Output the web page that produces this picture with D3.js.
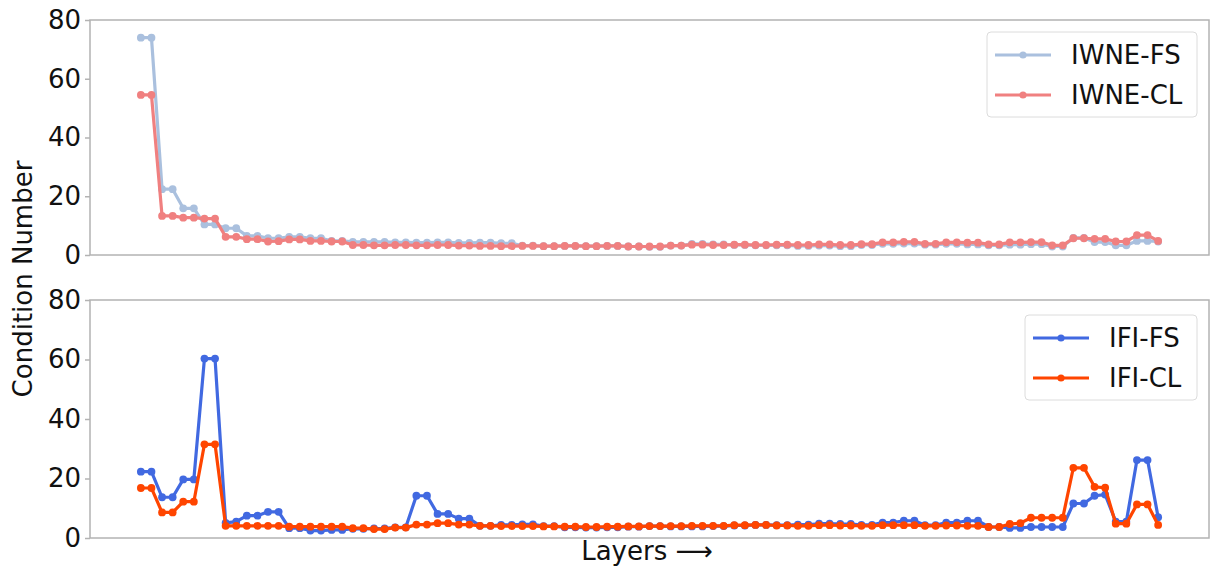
<!DOCTYPE html>
<html>
<head>
<meta charset="utf-8">
<script src="https://cdn.jsdelivr.net/npm/d3@7"></script>
<style>
  html, body { margin: 0; padding: 0; background: #fff; }
  svg { display: block; font-family: "DejaVu Sans", sans-serif; }
</style>
</head>
<body>
<svg id="chart" width="1210" height="567"></svg>
<script>
// Condition number per layer (97 layers, indexed 0..96)
const iwneFS = [74, 74, 22.4, 22.4, 15.9, 15.9, 10.4, 10.4, 9.1, 9.1,
  6.5, 6.5, 5.7, 5.7, 6.2, 6.2, 5.7, 5.7, 4.8, 4.8,
  4.5, 4.5, 4.5, 4.5, 4.3, 4.3, 4.2, 4.2, 4.3, 4.3,
  4.1, 4.1, 4.2, 4.2, 4.0, 4.0, 3.2, 3.2, 3.0, 3.0,
  3.1, 3.1, 3.0, 3.0, 3.1, 3.1, 2.9, 2.9, 2.8, 2.8,
  3.2, 3.2, 3.8, 3.8, 3.6, 3.6, 3.4, 3.4, 3.3, 3.3,
  3.3, 3.3, 3.1, 3.1, 3.2, 3.2, 3.0, 3.0, 3.4, 3.4,
  3.8, 3.8, 3.9, 3.9, 3.5, 3.5, 3.8, 3.8, 3.6, 3.6,
  3.3, 3.3, 3.5, 3.5, 3.7, 3.7, 2.9, 2.9, 5.8, 5.8,
  4.4, 4.4, 3.3, 3.3, 4.8, 4.8, 4.6];

const iwneCL = [54.5, 54.5, 13.3, 13.3, 12.7, 12.7, 12.4, 12.4, 6.2, 6.2,
  5.4, 5.4, 4.6, 4.7, 5.3, 5.3, 4.8, 4.8, 4.6, 4.6,
  3.4, 3.4, 3.3, 3.3, 3.4, 3.4, 3.3, 3.3, 3.4, 3.4,
  3.2, 3.2, 3.1, 3.1, 3.0, 3.0, 3.1, 3.1, 3.0, 3.0,
  3.1, 3.1, 3.0, 3.0, 3.1, 3.1, 2.9, 2.9, 2.9, 2.9,
  3.2, 3.2, 3.5, 3.5, 3.4, 3.4, 3.5, 3.5, 3.4, 3.4,
  3.5, 3.5, 3.4, 3.4, 3.6, 3.6, 3.4, 3.4, 3.7, 3.7,
  4.3, 4.3, 4.5, 4.5, 3.8, 3.8, 4.3, 4.3, 4.2, 4.2,
  3.6, 3.6, 4.3, 4.3, 4.4, 4.4, 3.3, 3.3, 5.7, 5.7,
  5.5, 5.5, 4.6, 4.6, 6.8, 6.8, 4.8];

const ifiFS = [22.3, 22.3, 13.7, 13.7, 19.7, 19.7, 60.3, 60.3, 5.1, 5.5,
  7.5, 7.5, 8.8, 8.8, 3.3, 3.3, 2.5, 2.5, 2.7, 2.7,
  3.1, 3.1, 3.2, 3.2, 3.6, 3.6, 14.2, 14.2, 8.1, 8.1,
  6.5, 6.5, 4.1, 4.1, 4.4, 4.4, 4.6, 4.6, 4.0, 4.0,
  3.6, 3.6, 3.5, 3.5, 3.6, 3.6, 3.8, 3.8, 4.0, 4.0,
  3.9, 3.9, 3.9, 3.9, 4.0, 4.0, 4.2, 4.2, 4.4, 4.4,
  4.3, 4.3, 4.5, 4.5, 4.8, 4.8, 4.7, 4.7, 4.4, 4.4,
  5.2, 5.2, 5.8, 5.8, 4.3, 4.3, 5.2, 5.2, 5.8, 5.8,
  3.7, 3.7, 3.4, 3.4, 3.7, 3.7, 3.7, 3.7, 11.6, 11.6,
  14.2, 14.6, 5.5, 5.5, 26.2, 26.2, 7.0];

const ifiCL = [16.8, 16.8, 8.6, 8.6, 12.2, 12.2, 31.5, 31.5, 4.1, 4.1,
  4.1, 4.1, 4.1, 4.1, 3.8, 3.8, 3.8, 3.8, 3.8, 3.8,
  3.3, 3.3, 3.0, 3.0, 3.5, 3.5, 4.5, 4.5, 5.0, 5.0,
  4.5, 4.5, 4.1, 4.1, 4.0, 4.0, 4.0, 4.0, 3.9, 3.9,
  3.8, 3.8, 3.7, 3.7, 3.8, 3.8, 3.9, 3.9, 4.0, 4.0,
  4.0, 4.0, 4.1, 4.1, 4.1, 4.1, 4.3, 4.3, 4.4, 4.4,
  4.2, 4.2, 4.1, 4.1, 4.3, 4.3, 4.2, 4.2, 4.1, 4.1,
  4.3, 4.3, 4.3, 4.3, 4.1, 4.1, 4.2, 4.2, 4.1, 4.1,
  3.7, 3.7, 4.7, 5.0, 6.8, 6.8, 6.8, 6.8, 23.6, 23.6,
  17.2, 16.9, 4.8, 4.8, 11.3, 11.3, 4.4];

const yTicks = [0, 20, 40, 60, 80];

const panels = [
  { top: 20, bottom: 255, series: [
      { name: "IWNE-FS", values: iwneFS, color: "#aac0de" },
      { name: "IWNE-CL", values: iwneCL, color: "#f08080" } ],
    legend: { x: 987, y: 32, w: 210, h: 85 } },
  { top: 300, bottom: 538, series: [
      { name: "IFI-FS", values: ifiFS, color: "#4169e1" },
      { name: "IFI-CL", values: ifiCL, color: "#ff4500" } ],
    legend: { x: 1025, y: 315, w: 172, h: 85 } }
];

const svg = d3.select("#chart");
const left = 90, right = 1209;
const n = iwneFS.length;
const pad = (n - 1) * 0.05;
const x = d3.scaleLinear().domain([-pad, n - 1 + pad]).range([left, right]);
const spineColor = "#b3b3b3";
const fontSize = 26;

panels.forEach(p => {
  const y = d3.scaleLinear().domain([0, 80]).range([p.bottom, p.top]);
  const g = svg.append("g");

  // frame
  g.append("rect")
    .attr("x", left).attr("y", p.top)
    .attr("width", right - left).attr("height", p.bottom - p.top)
    .attr("fill", "none").attr("stroke", spineColor).attr("stroke-width", 1.5);

  // y axis
  const ax = g.append("g").attr("transform", `translate(${left},0)`)
    .call(d3.axisLeft(y).tickValues(yTicks).tickSize(5).tickPadding(4));
  ax.select(".domain").remove();
  ax.selectAll(".tick line").attr("stroke", spineColor).attr("stroke-width", 1.5);
  ax.selectAll(".tick text")
    .attr("fill", "#111").attr("font-size", fontSize)
    .attr("font-family", "DejaVu Sans, sans-serif");

  const line = d3.line().x((d, i) => x(i)).y(d => y(d));

  p.series.forEach(s => {
    g.append("path").datum(s.values)
      .attr("d", line).attr("fill", "none")
      .attr("stroke", s.color).attr("stroke-width", 3.2)
      .attr("stroke-linejoin", "round");
    g.append("g").selectAll("circle").data(s.values).join("circle")
      .attr("cx", (d, i) => x(i)).attr("cy", d => y(d)).attr("r", 3.9)
      .attr("fill", s.color);
  });

  // legend
  const L = p.legend;
  const lg = g.append("g");
  lg.append("rect").attr("x", L.x).attr("y", L.y).attr("width", L.w).attr("height", L.h)
    .attr("rx", 4).attr("fill", "#fff").attr("fill-opacity", 0.8)
    .attr("stroke", "#dcdcdc").attr("stroke-width", 1);
  p.series.forEach((s, i) => {
    const cy = L.y + 23 + i * 40;
    lg.append("line").attr("x1", L.x + 8).attr("x2", L.x + 64)
      .attr("y1", cy).attr("y2", cy).attr("stroke", s.color).attr("stroke-width", 3.2);
    lg.append("circle").attr("cx", L.x + 36).attr("cy", cy).attr("r", 3.6).attr("fill", s.color);
    lg.append("text").attr("x", L.x + 84).attr("y", cy).attr("dy", "0.36em")
      .attr("font-size", fontSize).attr("fill", "#111").text(s.name);
  });
});

// axis titles
svg.append("text")
  .attr("transform", `translate(32,${(20 + 538) / 2}) rotate(-90)`)
  .attr("text-anchor", "middle").attr("font-size", fontSize).attr("fill", "#111")
  .text("Condition Number");

svg.append("text")
  .attr("x", 647).attr("y", 560).attr("text-anchor", "middle")
  .attr("font-size", fontSize).attr("fill", "#111")
  .text("Layers ⟶");
</script>
</body>
</html>
